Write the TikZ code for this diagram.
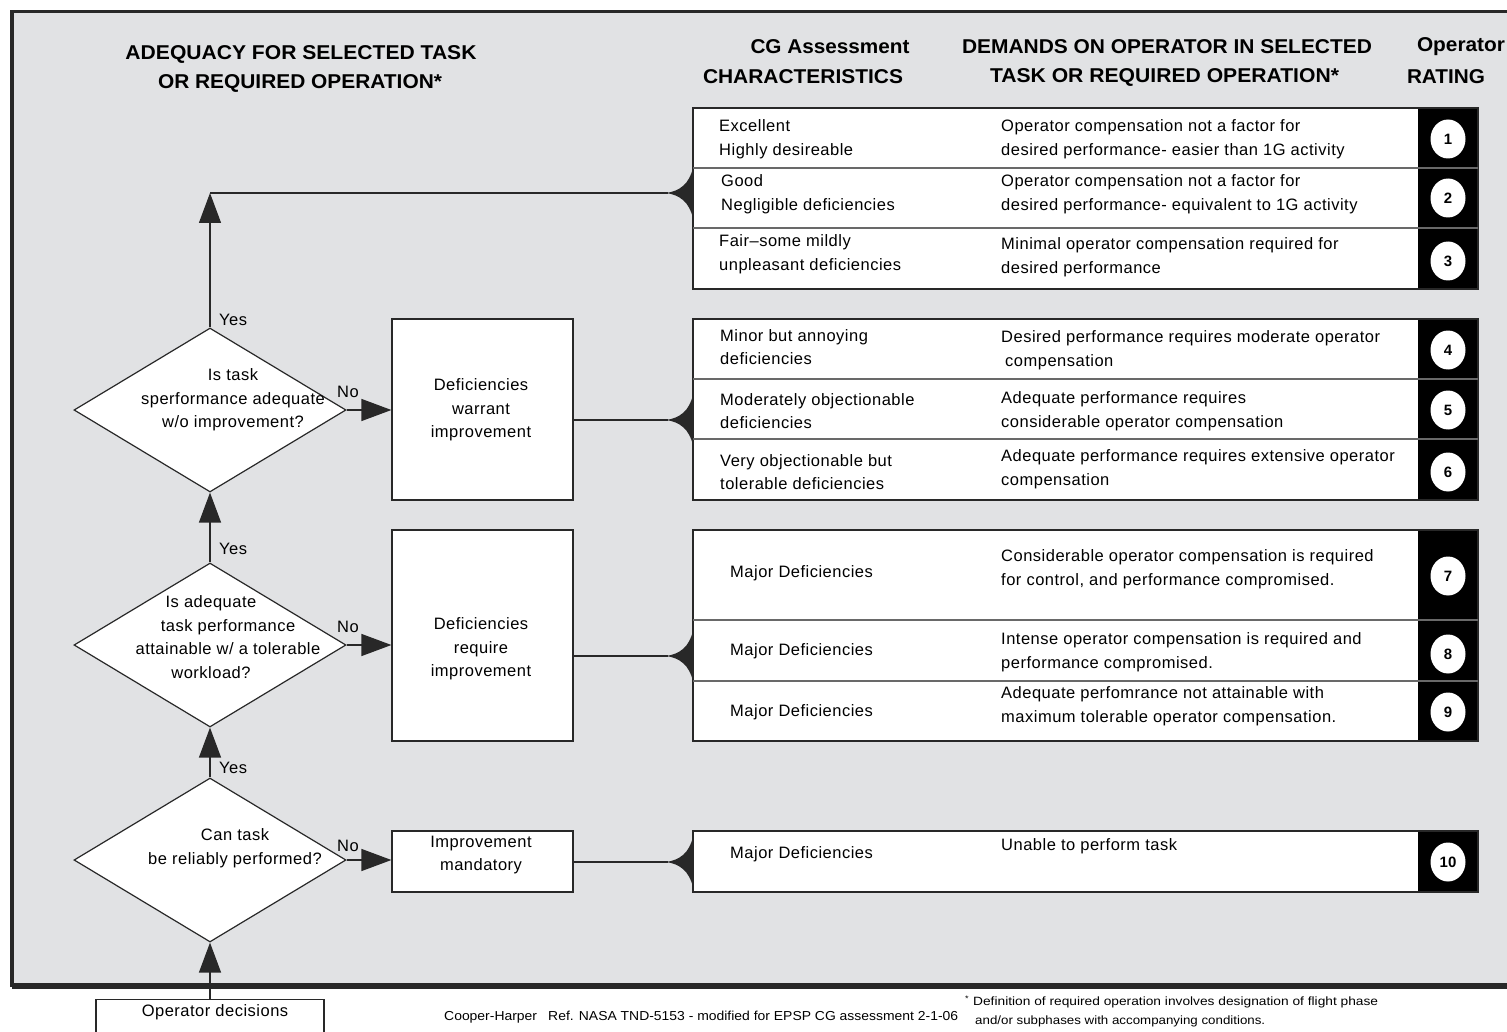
\documentclass[tikz,border=0pt]{standalone}
\usepackage{fontspec}
\setmainfont{Liberation Sans}
\newfontfamily\bodyf{Liberation Sans}[LetterSpace=3]
\usepackage{graphicx}
\usetikzlibrary{shapes.geometric,arrows.meta}
\definecolor{bg}{RGB}{225,226,228}
\definecolor{frame}{RGB}{40,40,40}
\definecolor{ln}{RGB}{40,40,40}
\definecolor{sepc}{RGB}{105,105,105}
\newcommand{\fitw}[2]{\resizebox{#1pt}{\height}{#2}}
\newcommand{\hornat}[1]{\fill[ln] (666,#1) .. controls (680,#1-2) and (689,#1-9) .. (693,#1-25) -- (693,#1+25) .. controls (689,#1+9) and (680,#1+2) .. (666,#1) -- cycle;}
\newcommand{\tgroup}[2]{%
  \fill[white] (693,#1) rectangle (1418,#2);
  \fill[black] (1418,#1) rectangle (1478,#2);
  \draw[ln, line width=1.3pt] (693,#1) rectangle (1478,#2);}
\begin{document}
\begin{tikzpicture}[x=1pt,y=-1pt,
  txt/.style={font=\bodyf\fontsize{16.5}{23.5}\selectfont, inner sep=0pt, align=left, anchor=west},
  ctr/.style={font=\bodyf\fontsize{16.5}{23.5}\selectfont, inner sep=0pt, align=center},
  hdr/.style={font=\fontsize{20}{24}\selectfont\bfseries, inner sep=0pt},
  dia/.style={diamond, draw=ln, line width=1.2pt, fill=white, minimum width=272pt, minimum height=164pt, inner sep=0pt},
  box/.style={rectangle, draw=ln, line width=1.2pt, fill=white, inner sep=0pt},
  conn/.style={draw=ln, line width=1.3pt},
  arr/.style={conn, -{Triangle[length=30pt,width=22pt]}},
  rate/.style={ellipse, fill=white, minimum width=35pt, minimum height=39pt, inner sep=0pt, font=\fontsize{15}{15}\selectfont\bfseries},
  lab/.style={font=\bodyf\fontsize{16.5}{16.5}\selectfont, inner sep=0pt, anchor=west},
  sepl/.style={draw=sepc, line width=1.2pt},
  foot/.style={inner sep=0pt, anchor=base west},
]
\useasboundingbox (0,0) rectangle (1507,1032);
\clip (0,0) rectangle (1507,1032);
\fill[white] (0,0) rectangle (1507,1032);
\draw[draw=frame, line width=3.5pt, fill=bg] (12,11.5) rectangle (1540,985);
\draw[frame, line width=2pt] (12,987.5) -- (1507,987.5);

% headers
\node[hdr] (h1a) at (301,54) {\fitw{351}{ADEQUACY FOR SELECTED TASK}};
\node[hdr] (h1b) at (300,83) {\fitw{284}{OR REQUIRED OPERATION*}};
\node[hdr] (h2a) at (830,47) {\fitw{159}{CG Assessment}};
\node[hdr] (h2b) at (803,77) {\fitw{200}{CHARACTERISTICS}};
\node[hdr] (h3a) at (1167,47) {\fitw{410}{DEMANDS ON OPERATOR IN SELECTED}};
\node[hdr] (h3b) at (1164.5,77) {\fitw{349}{TASK OR REQUIRED OPERATION*}};
\node[hdr] (h4a) at (1461,47) {\fitw{88}{Operator}};
\node[hdr] (h4b) at (1446,77) {\fitw{78}{RATING}};

% table groups
\tgroup{108}{289}
\draw[sepl] (693,168) -- (1478,168);
\draw[sepl] (693,228) -- (1478,228);
\tgroup{319}{500}
\draw[sepl] (693,379) -- (1478,379);
\draw[sepl] (693,439) -- (1478,439);
\tgroup{530}{741}
\draw[sepl] (693,620) -- (1478,620);
\draw[sepl] (693,681) -- (1478,681);
\tgroup{831}{892}

% characteristics
\node[txt] (c1) at (719,139) {Excellent\\Highly desireable};
\node[txt] (c2) at (721,194) {Good\\Negligible deficiencies};
\node[txt] (c3) at (719,254) {Fair–some mildly\\unpleasant deficiencies};
\node[txt] (c4) at (720,347) {Minor but annoying\\deficiencies};
\node[txt] (c5) at (720,411) {Moderately objectionable\\deficiencies};
\node[txt] (c6) at (720,472) {Very objectionable but\\tolerable deficiencies};
\node[txt] (c7) at (730,573) {Major Deficiencies};
\node[txt] (c8) at (730,651) {Major Deficiencies};
\node[txt] (c9) at (730,712) {Major Deficiencies};
\node[txt] (c10) at (730,854) {Major Deficiencies};

% demands
\node[txt] (d1) at (1001,139) {Operator compensation not a factor for\\desired performance- easier than 1G activity};
\node[txt] (d2) at (1001,194) {Operator compensation not a factor for\\desired performance- equivalent to 1G activity};
\node[txt] (d3) at (1001,257) {Minimal operator compensation required for\\desired performance};
\node[txt] (d4) at (1001,350) {Desired performance requires moderate operator\\\hspace*{4pt}compensation};
\node[txt] (d5) at (1001,411) {Adequate performance requires\\considerable operator compensation};
\node[txt] (d6) at (1001,469) {Adequate performance requires extensive operator\\compensation};
\node[txt] (d7) at (1001,569) {Considerable operator compensation is required\\for control, and performance compromised.};
\node[txt] (d8) at (1001,652) {Intense operator compensation is required and\\performance compromised.};
\node[txt] (d9) at (1001,706) {Adequate perfomrance not attainable with\\maximum tolerable operator compensation.};
\node[txt] (d10) at (1001,846) {Unable to perform task};

% ratings
\node[rate] (r1) at (1448,139) {1};
\node[rate] (r2) at (1448,198) {2};
\node[rate] (r3) at (1448,261) {3};
\node[rate] (r4) at (1448,350) {4};
\node[rate] (r5) at (1448,410) {5};
\node[rate] (r6) at (1448,472) {6};
\node[rate] (r7) at (1448,576) {7};
\node[rate] (r8) at (1448,654) {8};
\node[rate] (r9) at (1448,712) {9};
\node[rate] (r10) at (1448,862) {10};

% horns
\hornat{193}
\hornat{420}
\hornat{656}
\hornat{862}
\coordinate (g1) at (668,193);
\coordinate (g2) at (668,420);
\coordinate (g3) at (668,656);
\coordinate (g4) at (668,862);
\coordinate (k1) at (210,193);

% flowchart
\node[dia] (D1) at (210,410) {};
\node[dia] (D2) at (210,645) {};
\node[dia] (D3) at (210,860) {};
\node[ctr] (t1) at (233,400) {Is task\\sperformance adequate\\w/o improvement?};
\node[ctr] (t2) at (228,637) {Is adequate\hspace*{34pt}\\task performance\hspace*{40pt}\\attainable w/ a tolerable\\workload?\hspace*{34pt}};
\node[ctr] (t3) at (235,848) {Can task\\be reliably performed?};

\node[box, minimum width=181pt, minimum height=181pt] (B1) at (482.5,409.5) {};
\node[box, minimum width=181pt, minimum height=211pt] (B2) at (482.5,635.5) {};
\node[box, minimum width=181pt, minimum height=61pt] (B3) at (482.5,861.5) {};
\node[ctr] (b1t) at (481,410) {Deficiencies\\warrant\\improvement};
\node[ctr] (b2t) at (481,649) {Deficiencies\\require\\improvement};
\node[ctr] (b3t) at (481,855) {Improvement\\mandatory};

\node[box, minimum width=228pt, minimum height=60pt, anchor=north] (OD) at (210,999) {};
\node[ctr] (odt) at (215,1012) {Operator decisions};

% connectors
\draw[arr] (D1.north) -- (k1);
\draw[conn] (k1) -- (g1);
\draw[arr] (D1.east) -- (D1.east -| B1.west);
\draw[conn] (B1.east |- g2) -- (g2);
\draw[arr] (D2.north) -- (D1.south);
\draw[arr] (D2.east) -- (D2.east -| B2.west);
\draw[conn] (B2.east |- g3) -- (g3);
\draw[arr] (D3.north) -- (D2.south);
\draw[arr] (D3.east) -- (D3.east -| B3.west);
\draw[conn] (B3.east |- g4) -- (g4);
\draw[arr] (OD.north) -- (D3.south);

% yes / no
\node[lab] (y1) at (219,320) {Yes};
\node[lab] (y2) at (219,549) {Yes};
\node[lab] (y3) at (219,768) {Yes};
\node[lab] (n1) at (337,392) {No};
\node[lab] (n2) at (337,627) {No};
\node[lab] (n3) at (337,846) {No};

% footer
\node[foot, font=\fontsize{13}{13}\selectfont] (f1) at (444,1020.5) {\fitw{514}{Cooper-Harper\hspace{0.8em}Ref. NASA TND-5153 - modified for EPSP CG assessment 2-1-06}};
\node[foot, font=\fontsize{12}{12}\selectfont] (f2) at (965,1005.5) {\fitw{413}{\textsuperscript{*} Definition of required operation involves designation of flight phase}};
\node[foot, font=\fontsize{12}{12}\selectfont] (f3) at (975,1024.5) {\fitw{290}{and/or subphases with accompanying conditions.}};
\end{tikzpicture}
\end{document}
